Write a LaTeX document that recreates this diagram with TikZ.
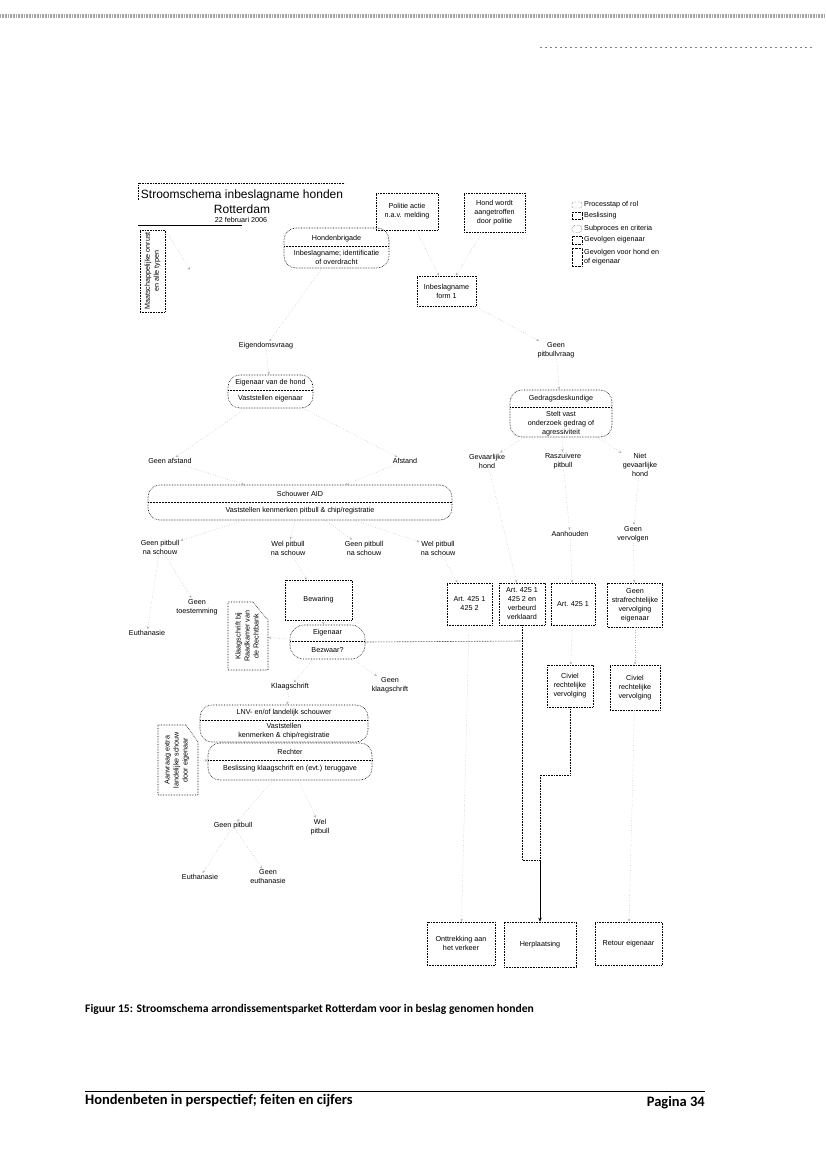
\documentclass[tikz,border=0pt]{standalone}
\usepackage{fontspec}
\setmainfont{Liberation Sans}
\newfontfamily\capfont{Carlito}
\usetikzlibrary{arrows.meta,calc}
\begin{document}
\begin{tikzpicture}[x=1pt,y=-1pt,
  lbl/.style={align=center, font=\fontsize{7.2}{9}\selectfont, inner sep=1pt},
  bx/.style={draw, densely dotted, line width=0.6pt, align=center, font=\fontsize{7.2}{9}\selectfont, inner sep=0.5pt},
  rb/.style={bx, rounded corners=12pt},
  con/.style={gray!60, dotted, line width=0.5pt, -{Stealth[length=3pt,width=2.5pt]}},
  ln/.style={densely dotted, line width=0.6pt},
  sep/.style={line width=0.5pt, densely dotted},
]
\useasboundingbox (0,0) rectangle (826,1169);
% scan artefacts
\draw[gray!70, line width=4pt, dash pattern=on 0.8pt off 0.8pt] (0,16) -- (826,16);
\draw[gray, line width=0.5pt, dash pattern=on 2pt off 3pt] (540,47) -- (812,47);

% title
\draw[ln] (138,200) -- (138,183) -- (345,183);
\draw[line width=0.6pt] (138,225) -- (242,225);
\node[font=\fontsize{12}{12}\selectfont, inner sep=0] (t1) at (242,195) {Stroomschema inbeslagname honden};
\node[font=\fontsize{12}{12}\selectfont, inner sep=0] (t2) at (242,209) {Rotterdam};
\node[lbl] (t3) at (241,220) {22 februari 2006};

% left vertical box
\node[bx, minimum width=25pt, minimum height=82pt] (vb1) at (152.5,271) {};
\node[lbl, rotate=90] (vb1t) at (152.5,271) {Maatschappelijke onrust\\en alle typen};
\coordinate (vb1e) at (190,270);
\draw[con] (vb1.north east) -- (vb1e);

% top boxes
\node[rb, minimum width=105pt, minimum height=40pt] (hb) at (336.5,248) {};
\draw[sep] (284,246) -- (389,246);
\node[lbl] (hbh) at (336.5,238.5) {Hondenbrigade};
\node[lbl] (hbt) at (336.5,257.5) {Inbeslagname; identificatie\\of overdracht};

\node[bx, minimum width=62pt, minimum height=37pt] (pa) at (407,211.5) {Politie actie\\n.a.v. melding};
\node[bx, minimum width=61pt, minimum height=39pt] (hw) at (494.5,212.5) {Hond wordt\\aangetroffen\\door politie};

% legend
\node[draw, densely dotted, rounded corners=2pt, minimum width=10pt, minimum height=6pt, inner sep=0] (lg1) at (577,205) {};
\node[draw, densely dotted, minimum width=10pt, minimum height=7pt, inner sep=0] (lg2) at (577,216) {};
\node[draw, densely dotted, rounded corners=3pt, minimum width=10pt, minimum height=7pt, inner sep=0] (lg3) at (577,229) {};
\node[draw, densely dotted, minimum width=10pt, minimum height=8pt, inner sep=0] (lg4) at (577,240) {};
\node[draw, densely dotted, minimum width=10pt, minimum height=18pt, inner sep=0] (lg5) at (577,257) {};
\node[lbl, anchor=west] (lt1) at (583,205) {Processtap of rol};
\node[lbl, anchor=west] (lt2) at (583,216) {Beslissing};
\node[lbl, anchor=west] (lt3) at (583,229) {Subproces en criteria};
\node[lbl, anchor=west] (lt4) at (583,240) {Gevolgen eigenaar};
\node[lbl, anchor=west, align=left] (lt5) at (583,257) {Gevolgen voor hond en\\of eigenaar};

\node[bx, minimum width=59pt, minimum height=30pt] (f1) at (446.5,291) {Inbeslagname\\form 1};

% second level
\node[lbl] (evq) at (266,346) {Eigendomsvraag};
\node[rb, minimum width=85pt, minimum height=33pt] (ev) at (270.5,391.5) {};
\draw[sep] (228,390) -- (313,390);
\node[lbl] (evh) at (270.5,383) {Eigenaar van de hond};
\node[lbl] (evt) at (270.5,398.5) {Vaststellen eigenaar};

\node[lbl] (gpv) at (556,350) {Geen\\pitbullvraag};
\node[rb, minimum width=102pt, minimum height=47pt] (gd) at (561,413.5) {};
\draw[sep] (510,407) -- (612,407);
\node[lbl] (gdh) at (561,399) {Gedragsdeskundige};
\node[lbl] (gdt) at (561,423.5) {Stelt vast\\onderzoek gedrag of\\agressiviteit};

% third level
\node[lbl] (ga) at (170,461) {Geen afstand};
\node[lbl] (af) at (405,461) {Afstand};
\node[lbl] (gh) at (487,461) {Gevaarlijke\\hond};
\node[lbl] (rp) at (563,461) {Raszuivere\\pitbull};
\node[lbl] (nh) at (640,465) {Niet\\gevaarlijke\\hond};

\node[rb, minimum width=304pt, minimum height=35pt] (sa) at (300,502.5) {};
\draw[sep] (148,502) -- (452,502);
\node[lbl] (sah) at (300,494) {Schouwer AID};
\node[lbl] (sat) at (300,510.5) {Vaststellen kenmerken pitbull \& chip/registratie};

\node[lbl] (s1) at (160,547) {Geen pitbull\\na schouw};
\node[lbl] (s2) at (288,548) {Wel pitbull\\na schouw};
\node[lbl] (s3) at (364,548) {Geen pitbull\\na schouw};
\node[lbl] (s4) at (438,548) {Wel pitbull\\na schouw};

\node[lbl] (ah) at (570,534) {Aanhouden};
\node[lbl] (gv) at (633,534) {Geen\\vervolgen};

% fourth level
\node[lbl] (gt) at (197,607) {Geen\\toestemming};
\node[lbl] (eu1) at (147,633) {Euthanasie};
\node[bx, minimum width=67pt, minimum height=40pt] (bs) at (318.5,600) {Bewaring};
\node[minimum width=40pt, minimum height=68pt, inner sep=0] (kb) at (248,636) {};
\draw[ln] (228,602) -- (253,602) -- (268,620) -- (268,670) -- (228,670) -- cycle;
\node[lbl, rotate=90] (kbt) at (247,636) {Klaagschrift bij\\Raadkamer van\\de Rechtbank};
\node[rb, minimum width=75pt, minimum height=34pt, rounded corners=14pt] (eb) at (327.5,642) {};
\draw[sep] (290,641) -- (365,641);
\node[lbl] (ebh) at (327.5,633) {Eigenaar};
\node[lbl] (ebt) at (327.5,650) {Bezwaar?};
\node[lbl] (kl) at (290,687) {Klaagschrift};
\node[lbl] (gk) at (390,685) {Geen\\klaagschrift};

% article boxes
\node[bx, minimum width=45pt, minimum height=42pt] (a1) at (469.5,604) {Art. 425 1\\425 2};
\node[bx, minimum width=46pt, minimum height=42pt] (a2) at (522,604) {Art. 425 1\\425 2 en\\verbeurd\\verklaard};
\node[bx, minimum width=44pt, minimum height=42pt] (a3) at (573,604) {Art. 425 1};
\node[bx, minimum width=55pt, minimum height=44pt] (a4) at (635,605) {Geen\\strafrechtelijke\\vervolging\\eigenaar};

\node[bx, minimum width=46pt, minimum height=42pt] (c1) at (570,686) {Civiel\\rechtelijke\\vervolging};
\node[bx, minimum width=50pt, minimum height=45pt] (c2) at (635,687.5) {Civiel\\rechtelijke\\vervolging};

% LNV / Rechter
\node[rb, minimum width=168pt, minimum height=37pt] (lnv) at (284,723.5) {};
\draw[sep] (200,720) -- (368,720);
\node[lbl] (lnvh) at (284,713) {LNV- en/of landelijk schouwer};
\node[lbl] (lnvt) at (284,731.5) {Vaststellen\\kenmerken \& chip/registratie};
\node[rb, minimum width=164pt, minimum height=37pt, fill=white] (rc) at (290,761.5) {};
\draw[sep] (208,760) -- (372,760);
\node[lbl] (rch) at (290,752) {Rechter};
\node[lbl] (rct) at (290,768.5) {Beslissing klaagschrift en (evt.) teruggave};

\node[minimum width=40pt, minimum height=70pt, inner sep=0] (vb2) at (178,760) {};
\draw[ln] (158,725) -- (186,725) -- (198,742) -- (198,795) -- (158,795) -- cycle;
\node[lbl, rotate=90] (vb2t) at (177,760) {Aanvraag extra\\landelijke schouw\\door eigenaar};

% bottom labels
\node[lbl] (gp2) at (233,826) {Geen pitbull};
\node[lbl] (wp2) at (320,827) {Wel\\pitbull};
\node[lbl] (eu2) at (200,877) {Euthanasie};
\node[lbl] (ge2) at (268,877) {Geen\\euthanasie};

% end boxes
\node[bx, minimum width=68pt, minimum height=43pt] (ot) at (461,943.5) {Onttrekking aan\\het verkeer};
\node[bx, minimum width=72pt, minimum height=45pt] (hp) at (540,944.5) {Herplaatsing};
\node[bx, minimum width=67pt, minimum height=43pt] (re) at (628.5,943.5) {Retour eigenaar};

% connectors (faint in the scan)
\draw[con] (pa) -- (f1);
\draw[con] (hw) -- (f1);
\draw[con] (hb) -- (evq);
\draw[con] (evq) -- (ev);
\draw[con] (f1) -- (gpv);
\draw[con] (gpv) -- (gd);
\draw[con] (ev) -- (ga);
\draw[con] (ev) -- (af);
\draw[con] (gd) -- (gh);
\draw[con] (gd) -- (rp);
\draw[con] (gd) -- (nh);
\draw[con] (ga) -- (sa);
\draw[con] (af) -- (sa);
\draw[con] (sa) -- (s1);
\draw[con] (sa) -- (s2);
\draw[con] (sa) -- (s3);
\draw[con] (sa) -- (s4);
\draw[con] (rp) -- (ah);
\draw[con] (nh) -- (gv);
\draw[con] (s1) -- (gt);
\draw[con] (s1) -- (eu1);
\draw[con] (s2) -- (bs);
\draw[con] (bs) -- (eb);
\draw[con] (eb) -- (kb);
\draw[con] (eb) -- (kl);
\draw[con] (eb) -- (gk);
\draw[con] (kl) -- (lnv);
\draw[con] (vb2) -- (rc);
\draw[con] (rc) -- (gp2);
\draw[con] (rc) -- (wp2);
\draw[con] (gp2) -- (eu2);
\draw[con] (gp2) -- (ge2);
\draw[con] (s4) -- (a1);
\draw[con] (gh) -- (a2);
\draw[con] (ah) -- (a3);
\draw[con] (gv) -- (a4);
\draw[con] (a3) -- (c1);
\draw[con] (a4) -- (c2);
\draw[con] (a1) -- (ot);
\draw[con] (c2) -- (re);

% visible main lines
\coordinate (j2) at (522,641);
\coordinate (j3) at (522,860);
\coordinate (j4) at (540,860);
\coordinate (j5) at (570,775);
\coordinate (j6) at (540,775);
\draw[ln] (eb.east) -- (j2);
\draw[ln] (a2.south) -- (j3) -- (j4);
\draw[ln] (c1.south) -- (j5) -- (j6) -- (j4);
\draw[line width=0.6pt, -{Stealth[length=4pt,width=3.5pt]}] (j4) -- (hp.north);

% caption and footer
\node[anchor=west, font=\capfont\bfseries\fontsize{11.6}{11.6}\selectfont, inner sep=0] (cap) at (85,1009) {Figuur 15: Stroomschema arrondissementsparket Rotterdam voor in beslag genomen honden};
\draw[line width=0.8pt] (85,1091) -- (705,1091);
\node[anchor=west, font=\capfont\bfseries\fontsize{14.5}{14.5}\selectfont, inner sep=0] (ft) at (85,1101) {Hondenbeten in perspectief; feiten en cijfers};
\node[anchor=east, font=\capfont\bfseries\fontsize{14.5}{14.5}\selectfont, inner sep=0] (pg) at (705,1103) {Pagina 34};
\end{tikzpicture}
\end{document}
